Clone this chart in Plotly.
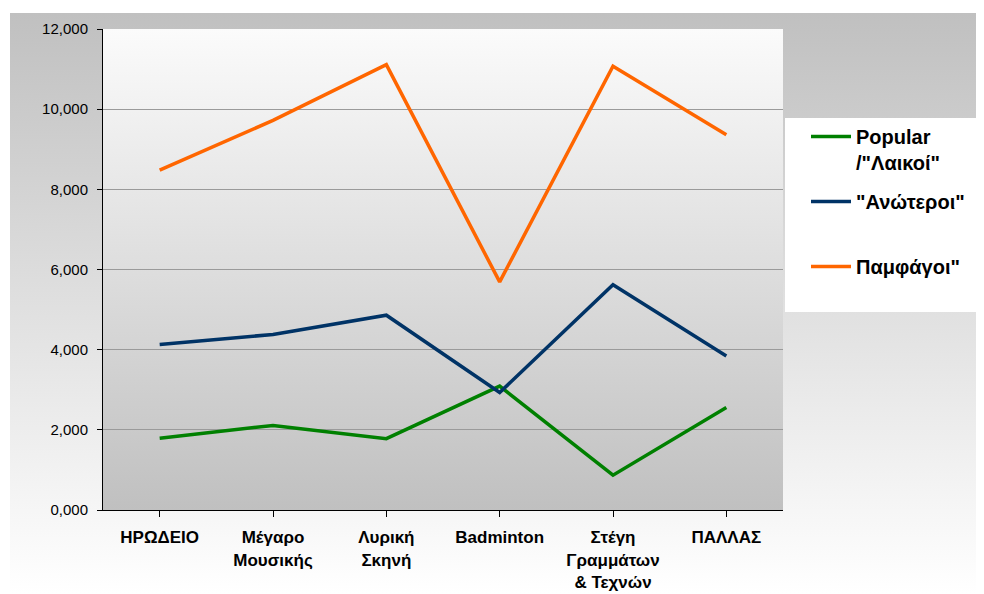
import base64
import plotly.graph_objects as go

categories = ["ΗΡΩΔΕΙΟ", "Μέγαρο<br>Μουσικής", "Λυρική<br>Σκηνή", "Badminton",
              "Στέγη<br>Γραμμάτων<br>& Τεχνών", "ΠΑΛΛΑΣ"]
popular = [1790, 2110, 1780, 3090, 870, 2560]
anoteroi = [4130, 4380, 4860, 2930, 5620, 3840]
pamfagoi = [8480, 9720, 11110, 5690, 11070, 9360]
series_names = ["Popular<br>/\"Λαικοί\"", "\"Ανώτεροι\"<br> ", "Παμφάγοι\""]
series_colors = ["#008000", "#003366", "#FF6600"]
y_tickvals = [0, 2000, 4000, 6000, 8000, 10000, 12000]
y_ticktext = ["0,000", "2,000", "4,000", "6,000", "8,000", "10,000", "12,000"]

OFF = 8  # page body margin
W, H = 984 - OFF, 594 - OFF
L, R, T, B = 103 - OFF, 783 - OFF, 29 - OFF, 510 - OFF  # plot area pixel box in figure coords
pw, ph = R - L, B - T


def gradient_svg(w, h, top, bottom):
    svg = (f"<svg xmlns='http://www.w3.org/2000/svg' width='{w}' height='{h}' viewBox='0 0 {w} {h}'>"
           f"<defs><linearGradient id='g' x1='0' y1='0' x2='0' y2='1'>"
           f"<stop offset='0' stop-color='{top}'/><stop offset='1' stop-color='{bottom}'/>"
           f"</linearGradient></defs><rect x='0' y='0' width='{w}' height='{h}' fill='url(#g)'/></svg>")
    return "data:image/svg+xml;base64," + base64.b64encode(svg.encode()).decode()


def px_x(p):  # reference page pixel -> paper
    return (p - OFF - L) / pw


def px_y(p):
    return (B - (p - OFF)) / ph


fig = go.Figure()
for vals, name, col, grp in zip([popular, anoteroi, pamfagoi], series_names, series_colors, ["a", "b", "c"]):
    fig.add_trace(go.Scatter(x=list(range(len(categories))), y=vals, mode="lines", name=name,
                             legendgroup=grp,
                             line=dict(color=col, width=3.5)))

ox, oy = 10, 13
fig.update_layout(
    width=W, height=H,
    margin=dict(l=L, r=W - R, t=T, b=H - B, pad=0, autoexpand=False),
    paper_bgcolor="white",
    plot_bgcolor="rgba(0,0,0,0)",
    font=dict(family="Liberation Sans, Arial, sans-serif", color="black"),
    images=[
        dict(source=gradient_svg(984 - ox, 594 - oy, "#c0c0c0", "#ffffff"),
             xref="paper", yref="paper", x=px_x(ox), y=px_y(oy),
             sizex=(984 - ox) / pw, sizey=(594 - oy) / ph,
             xanchor="left", yanchor="top", sizing="stretch", layer="below"),
        dict(source=gradient_svg(pw, ph, "#fbfbfb", "#c0c0c0"),
             xref="paper", yref="paper", x=0, y=1, sizex=1, sizey=1,
             xanchor="left", yanchor="top", sizing="stretch", layer="below"),
    ],
    shapes=[dict(type="rect", xref="paper", yref="paper",
                 x0=px_x(785), x1=px_x(990), y0=px_y(312), y1=px_y(118),
                 fillcolor="white", line=dict(width=0), layer="above")],
    showlegend=True,
    legend=dict(x=px_x(806), y=px_y(117), xanchor="left", yanchor="top",
                bgcolor="rgba(0,0,0,0)", borderwidth=0, valign="top",
                tracegroupgap=10, itemwidth=40,
                font=dict(size=20, family="Liberation Sans, Arial, sans-serif", color="black", weight="bold")),
    xaxis=dict(range=[-0.5, 5.5], tickmode="array", tickvals=list(range(len(categories))),
               ticktext=[f"<b>{c}</b>" for c in categories], tickson="boundaries",
               ticks="outside", ticklen=6, tickcolor="black", showline=True, linecolor="black",
               linewidth=1, showgrid=False, zeroline=False, tickfont=dict(size=17),
               ticklabelstandoff=6, automargin=False, fixedrange=True),
    yaxis=dict(range=[0, 12000], tickmode="array", tickvals=y_tickvals, ticktext=y_ticktext,
               ticks="outside", ticklen=5, tickcolor="black", showline=True, linecolor="black",
               linewidth=1, showgrid=True, gridcolor="#9a9a9a", gridwidth=1, zeroline=False,
               tickfont=dict(size=15), ticklabelstandoff=6, automargin=False, fixedrange=True),
)

fig.write_html("out.html")
